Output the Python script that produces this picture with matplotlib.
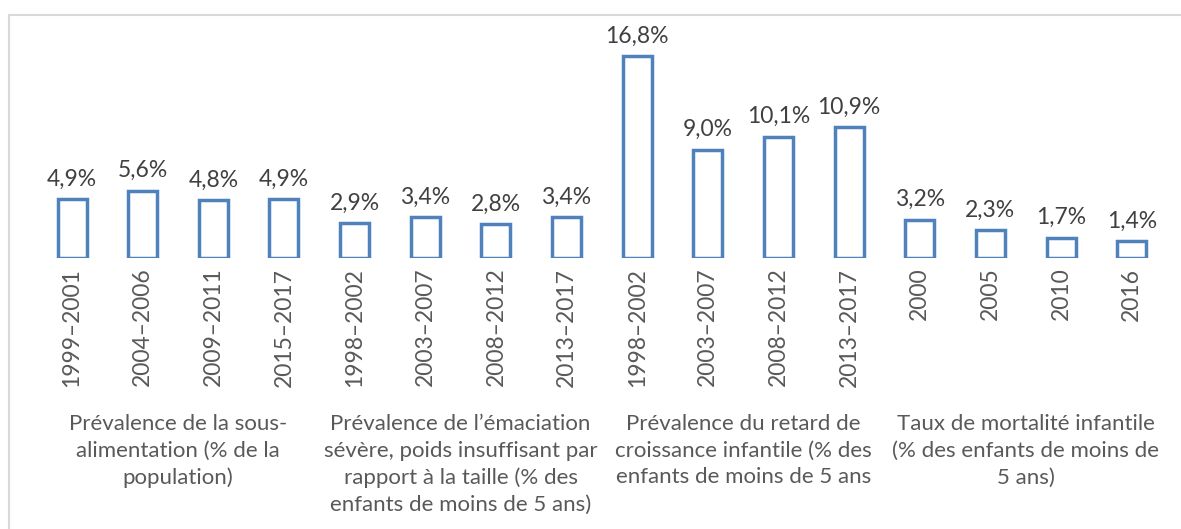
import matplotlib
matplotlib.use("Agg")
import matplotlib.pyplot as plt
from matplotlib.lines import Line2D
from matplotlib.transforms import blended_transform_factory

periods = ["1999–2001", "2004–2006", "2009–2011", "2015–2017",
           "1998–2002", "2003–2007", "2008–2012", "2013–2017",
           "1998–2002", "2003–2007", "2008–2012", "2013–2017",
           "2000", "2005", "2010", "2016"]
values = [4.9, 5.6, 4.8, 4.9,
          2.9, 3.4, 2.8, 3.4,
          16.8, 9.0, 10.1, 10.9,
          3.2, 2.3, 1.7, 1.4]
groups = ["Prévalence de la sous-\nalimentation (% de la\npopulation)",
          "Prévalence de l’émaciation\nsévère, poids insuffisant par\nrapport à la taille (% des\nenfants de moins de 5 ans)",
          "Prévalence du retard de\ncroissance infantile (% des\nenfants de moins de 5 ans",
          "Taux de mortalité infantile\n(% des enfants de moins de\n5 ans)"]
group_size = 4

plt.rcParams['font.family'] = ['Lato', 'DejaVu Sans']

W, H = 1181, 529
fig = plt.figure(figsize=(W / 100, H / 100), dpi=100)
left_px, right_px = 36.7, 1167
base_px = 258
ymax = 18.0
top_px = base_px - ymax * 12.0
ax = fig.add_axes([left_px / W, (H - base_px) / H,
                   (right_px - left_px) / W, (base_px - top_px) / H])

x = list(range(len(values)))
bars = ax.bar(x, values, width=0.41, facecolor='white', edgecolor='#4F81BD',
              linewidth=2.5)
ax.set_xlim(-0.5, len(values) - 0.5)
ax.set_ylim(0, ymax)
for b, v in zip(bars, values):
    ax.annotate(f"{v:.1f}%".replace('.', ','), (b.get_x() + b.get_width() / 2, v),
                xytext=(0, 7), textcoords='offset points', ha='center', va='bottom',
                fontsize=16.5, color='#404040')

ax.set_xticks(x)
ax.set_xticklabels(periods, rotation=90, fontsize=16.5, color='#595959')
ax.tick_params(axis='x', length=0, pad=7)
ax.set_yticks([])
for s in ax.spines.values():
    s.set_visible(False)

trans = blended_transform_factory(ax.transData, fig.transFigure)
for i, g in enumerate(groups):
    cx = i * group_size + (group_size - 1) / 2
    ax.text(cx, 1 - 414 / H, g, transform=trans, ha='center', va='top',
            fontsize=16, color='#595959', linespacing=1.42)

# chart border
fig.add_artist(Line2D([8.5 / W, 8.5 / W], [0, 1 - 14.5 / H], transform=fig.transFigure,
                      color='#D9D9D9', linewidth=1.5))
fig.add_artist(Line2D([8.5 / W, 1], [1 - 14.5 / H, 1 - 14.5 / H], transform=fig.transFigure,
                      color='#D9D9D9', linewidth=1.5))

fig.savefig("out.png", dpi=100)
